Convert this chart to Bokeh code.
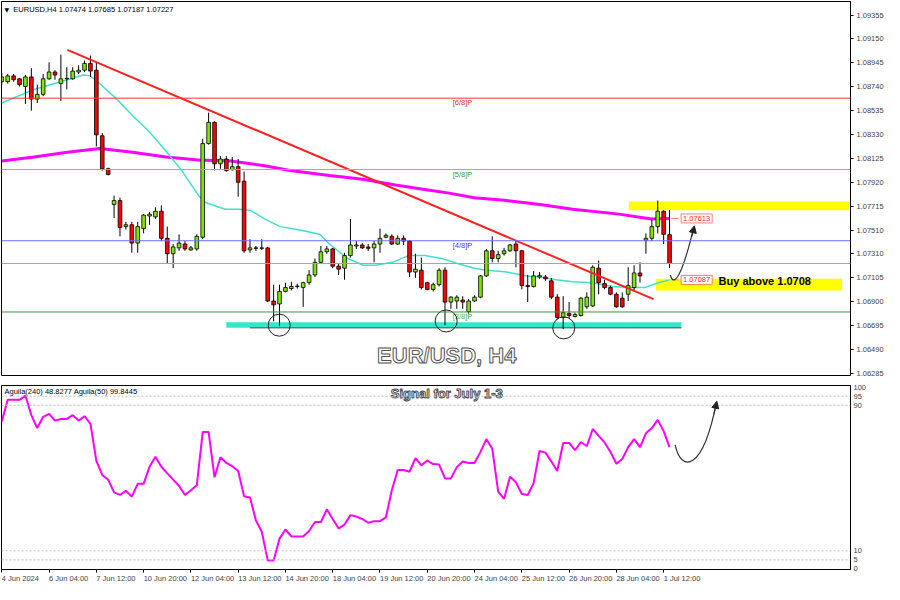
from bokeh.plotting import figure
from bokeh.layouts import column
from bokeh.models import (Range1d, FixedTicker, PrintfTickFormatter, Label, Arrow,
                          NormalHead, Span, ColumnDataSource, LinearAxis)
from bokeh.embed import file_html
from bokeh.resources import INLINE
from bokeh.core.properties import value

FONT = "Liberation Sans"

# ---------------- data (EURUSD H4) ----------------
opens = [
    1.08784, 1.08784, 1.08834, 1.08809, 1.08743, 1.08825, 1.08635, 1.08676, 1.08809, 1.08867,
    1.08768, 1.08809, 1.08809, 1.08867, 1.08883, 1.08941, 1.08883, 1.08321, 1.08039, 1.07733,
    1.07766, 1.07543, 1.07559, 1.07402, 1.07526, 1.07634, 1.07626, 1.07675, 1.07443, 1.07311,
    1.07361, 1.07394, 1.07344, 1.07352, 1.07452, 1.08254, 1.08436, 1.08081, 1.08122, 1.08031,
    1.08056, 1.07932, 1.07344, 1.07361, 1.07357, 1.07361, 1.06906, 1.06881, 1.06988, 1.07013,
    1.07030, 1.07021, 1.07063, 1.07129, 1.07237, 1.07328, 1.07352, 1.07204, 1.07187, 1.07295,
    1.07377, 1.07386, 1.07369, 1.07361, 1.07394, 1.07452, 1.07460, 1.07394, 1.07443, 1.07419,
    1.07154, 1.07170, 1.07063, 1.07005, 1.07046, 1.07170, 1.06897, 1.06906, 1.06914, 1.06815,
    1.06906, 1.06939, 1.07121, 1.07336, 1.07270, 1.07311, 1.07336, 1.07394, 1.07336, 1.07038,
    1.07030, 1.07112, 1.07112, 1.07079, 1.06939, 1.06765, 1.06798, 1.06773, 1.06782, 1.06856,
    1.06864, 1.07187, 1.07055, 1.07021, 1.06964, 1.06930, 1.06964, 1.07021, 1.07146, 1.07427,
    1.07443, 1.07543, 1.07675, 1.07474]
highs = [
    1.08859, 1.08850, 1.08850, 1.08817, 1.08842, 1.08900, 1.08759, 1.08850, 1.08950, 1.08883,
    1.09016, 1.08908, 1.08908, 1.08925, 1.08966, 1.09007, 1.08950, 1.08345, 1.08048, 1.07808,
    1.07791, 1.07584, 1.07584, 1.07584, 1.07650, 1.07667, 1.07708, 1.07725, 1.07543, 1.07394,
    1.07477, 1.07419, 1.07377, 1.07477, 1.08296, 1.08519, 1.08445, 1.08147, 1.08147, 1.08139,
    1.08122, 1.08014, 1.07435, 1.07377, 1.07435, 1.07369, 1.07046, 1.07046, 1.07063, 1.07071,
    1.07055, 1.07071, 1.07170, 1.07270, 1.07377, 1.07377, 1.07361, 1.07228, 1.07319, 1.07609,
    1.07419, 1.07402, 1.07394, 1.07419, 1.07526, 1.07485, 1.07477, 1.07468, 1.07468, 1.07427,
    1.07311, 1.07278, 1.07071, 1.07063, 1.07187, 1.07195, 1.06947, 1.06955, 1.06947, 1.06922,
    1.06955, 1.07129, 1.07352, 1.07460, 1.07336, 1.07361, 1.07394, 1.07419, 1.07344, 1.07129,
    1.07162, 1.07154, 1.07129, 1.07104, 1.06964, 1.06947, 1.06897, 1.06806, 1.06939, 1.06980,
    1.07212, 1.07253, 1.07088, 1.07038, 1.06980, 1.06980, 1.07195, 1.07212, 1.07237, 1.07485,
    1.07601, 1.07766, 1.07683, 1.07685]
lows = [
    1.08759, 1.08768, 1.08784, 1.08743, 1.08594, 1.08536, 1.08602, 1.08660, 1.08801, 1.08801,
    1.08619, 1.08718, 1.08801, 1.08850, 1.08867, 1.08825, 1.08230, 1.08023, 1.07981, 1.07617,
    1.07460, 1.07518, 1.07319, 1.07319, 1.07485, 1.07559, 1.07609, 1.07419, 1.07228, 1.07187,
    1.07336, 1.07336, 1.07336, 1.07336, 1.07435, 1.08246, 1.08023, 1.08039, 1.08014, 1.08023,
    1.07799, 1.07319, 1.07319, 1.07336, 1.07344, 1.06897, 1.06732, 1.06690, 1.06980, 1.06997,
    1.07013, 1.06856, 1.07046, 1.07112, 1.07228, 1.07311, 1.07187, 1.07129, 1.07088, 1.07278,
    1.07352, 1.07352, 1.07336, 1.07237, 1.07319, 1.07443, 1.07386, 1.07386, 1.07386, 1.07112,
    1.07104, 1.07005, 1.06997, 1.06988, 1.07030, 1.06699, 1.06839, 1.06839, 1.06839, 1.06798,
    1.06897, 1.06930, 1.07112, 1.07237, 1.07237, 1.07295, 1.07328, 1.07195, 1.07005, 1.06897,
    1.07021, 1.07096, 1.07079, 1.06922, 1.06748, 1.06665, 1.06757, 1.06765, 1.06773, 1.06839,
    1.06856, 1.06964, 1.07005, 1.06955, 1.06848, 1.06848, 1.06906, 1.06988, 1.07063, 1.07311,
    1.07419, 1.07485, 1.07394, 1.07187]
closes = [
    1.08825, 1.08834, 1.08801, 1.08759, 1.08825, 1.08635, 1.08676, 1.08809, 1.08867, 1.08842,
    1.08809, 1.08813, 1.08875, 1.08883, 1.08941, 1.08875, 1.08329, 1.08039, 1.07990, 1.07766,
    1.07535, 1.07559, 1.07402, 1.07543, 1.07642, 1.07650, 1.07675, 1.07443, 1.07311, 1.07369,
    1.07402, 1.07352, 1.07361, 1.07460, 1.08254, 1.08436, 1.08081, 1.08122, 1.08023, 1.08056,
    1.07923, 1.07336, 1.07361, 1.07357, 1.07361, 1.06906, 1.06873, 1.06988, 1.07021, 1.07030,
    1.07034, 1.07063, 1.07129, 1.07237, 1.07328, 1.07352, 1.07204, 1.07179, 1.07295, 1.07386,
    1.07386, 1.07361, 1.07357, 1.07394, 1.07443, 1.07468, 1.07394, 1.07443, 1.07419, 1.07154,
    1.07179, 1.07021, 1.07005, 1.07046, 1.07170, 1.06897, 1.06939, 1.06939, 1.06897, 1.06906,
    1.06939, 1.07121, 1.07336, 1.07270, 1.07303, 1.07336, 1.07386, 1.07336, 1.07038, 1.07030,
    1.07121, 1.07125, 1.07096, 1.06939, 1.06765, 1.06806, 1.06782, 1.06790, 1.06930, 1.06939,
    1.07195, 1.07063, 1.07021, 1.06964, 1.06856, 1.06856, 1.07038, 1.07146, 1.07121, 1.07443,
    1.07543, 1.07675, 1.07477, 1.07227]

# fast moving average (cyan), read at points along the curve
ma_fast_bar = [0, 5.45, 11.1, 13.8, 15.0, 16.6, 19.45, 22.1, 25.0, 27.8, 30.45, 33.3, 34.45,
               37.8, 40.0, 42.1, 44.45, 47.1, 50.0, 53.8, 55.45, 58.3, 61.1, 63.3, 66.1, 68.8,
               71.6, 74.45, 77.1, 79.95, 82.1, 85.45, 88.8, 91.1, 93.8, 96.6, 100.0, 103.3,
               106.1, 108.8, 111.1, 113.0]
ma_fast_val = [1.08602, 1.08718, 1.08801, 1.08842, 1.08834, 1.08767, 1.08635, 1.08494, 1.08354,
               1.08188, 1.08023, 1.07808, 1.07750, 1.07692, 1.07692, 1.07683, 1.07609, 1.07543,
               1.07518, 1.07477, 1.07394, 1.07278, 1.07212, 1.07212, 1.07237, 1.07295, 1.07295,
               1.07270, 1.07228, 1.07187, 1.07170, 1.07154, 1.07121, 1.07112, 1.07088, 1.07071,
               1.07063, 1.07030, 1.07021, 1.07021, 1.07063, 1.07087]
# slow moving average (magenta)
ma_slow_bar = [0, 5.45, 11.1, 16.6, 22.1, 27.8, 33.3, 38.8, 44.45, 48.8, 55.45, 61.1, 66.6,
               72.1, 75.45, 79.95, 85.45, 91.1, 96.6, 104.45, 109.95, 113.0]
ma_slow_val = [1.08105, 1.08139, 1.08180, 1.08213, 1.08180, 1.08139, 1.08114, 1.08105, 1.08064,
               1.08023, 1.07981, 1.07948, 1.07899, 1.07857, 1.07832, 1.07791, 1.07766, 1.07733,
               1.07692, 1.07650, 1.07609, 1.07613]

# oscillator (Aguila) one value per bar
osc_vals = [
    81.1, 93.0, 93.0, 93.0, 95.4, 84.6, 77.5, 83.7, 85.3, 81.6,
    82.5, 82.5, 84.6, 81.6, 84.0, 79.8, 59.5, 51.7, 49.1, 42.1,
    40.7, 43.0, 39.8, 46.8, 46.8, 56.2, 61.7, 56.2, 52.6, 49.1,
    45.6, 40.7, 43.3, 46.0, 75.3, 75.3, 50.4, 61.4, 58.3, 56.5,
    53.9, 40.0, 39.3, 26.7, 20.5, 4.7, 4.7, 16.7, 21.7, 17.9,
    17.9, 17.9, 20.9, 25.8, 25.8, 32.8, 27.5, 22.3, 24.4, 29.6,
    28.8, 27.5, 25.4, 26.3, 26.3, 28.4, 43.3, 54.4, 54.4, 53.5,
    60.9, 57.0, 59.6, 57.7, 57.4, 49.8, 49.8, 56.0, 59.1, 58.3,
    58.3, 64.4, 71.4, 66.1, 42.5, 38.6, 50.7, 47.7, 41.2, 40.7,
    47.2, 64.9, 64.0, 59.1, 53.9, 69.3, 69.3, 65.3, 69.8, 67.5,
    77.0, 73.2, 69.6, 64.4, 57.9, 60.5, 67.0, 71.4, 67.0, 74.6,
    77.5, 82.0, 75.8, 67.0]

price_ticks = [1.06285, 1.06490, 1.06695, 1.06900, 1.07105, 1.07310, 1.07510, 1.07715,
               1.07920, 1.08125, 1.08330, 1.08535, 1.08740, 1.08945, 1.09150, 1.09355]
time_tick_bars = [0, 8, 16, 24, 32, 40, 48, 56, 64, 72, 80, 88, 96, 104, 112]
time_tick_labels = ["4 Jun 2024", "6 Jun 04:00", "7 Jun 12:00", "10 Jun 20:00", "12 Jun 04:00",
                    "13 Jun 12:00", "14 Jun 20:00", "18 Jun 04:00", "19 Jun 12:00",
                    "20 Jun 20:00", "24 Jun 04:00", "25 Jun 12:00", "26 Jun 20:00",
                    "28 Jun 04:00", "1 Jul 12:00"]
osc_ticks = [0, 5, 10, 90, 95, 100]
osc_levels = [95, 90, 10, 5]

level_prices = [1.08643, 1.08032, 1.07422, 1.06812]
level_names = ["[6/8]P", "[5/8]P", "[4/8]P", "[3/8]P"]
last_price = 1.07227

trend_bars = [11.1, 110.3]
trend_prices = [1.09057, 1.06922]

support_bars = [38.0, 115.0]
support_low, support_high = 1.06676, 1.06724
support_line_bars = [42.0, 115.0]

zone_left = [106.1, 110.7]
zone_right = [143.4, 142.2]
zone_bottom = [1.07683, 1.06997]
zone_top = [1.07758, 1.07096]

circle_bars = [46.95, 75.2, 95.1]
circle_prices = [1.06699, 1.06735, 1.06676]

ma_fast_last = 1.07087
ma_slow_last = 1.07613

# ---------------- figures ----------------
XMIN, XMAX = -0.05, 143.62
x_range = Range1d(XMIN, XMAX)
FW = 849
PX_PER_BAR = FW / (XMAX - XMIN)
LABEL_PX = 7.5

p = figure(frame_width=FW, frame_height=374, x_range=x_range,
           y_range=Range1d(1.06268, 1.09471), x_axis_location=None,
           y_axis_location="right", output_backend="svg", toolbar_location=None,
           min_border_left=1, min_border_right=0, min_border_top=1, min_border_bottom=5,
           background_fill_color="white", border_fill_color="white",
           outline_line_color="black", outline_line_width=1)
p.grid.visible = False
ya = p.yaxis[0]
ya.ticker = FixedTicker(ticks=price_ticks)
ya.formatter = PrintfTickFormatter(format="%.5f")
ya.major_label_text_font = FONT
ya.major_label_text_font_size = "7.5px"
ya.major_tick_out = 3
ya.major_tick_in = 0
ya.minor_tick_out = 0
ya.minor_tick_in = 0
ya.major_label_standoff = 3
ya.axis_line_color = "black"

# zones and support
p.quad(left=zone_left, right=zone_right, bottom=zone_bottom, top=zone_top,
       fill_color="#ffff00", line_color=None)
p.quad(left=[support_bars[0]], right=[support_bars[1]], bottom=[support_low],
       top=[support_high], fill_color="#33e6cc", line_color=None)
p.line(support_line_bars, [support_low, support_low], line_color="#2f4f4f", line_width=1)

# horizontal levels
level_line_colors = ["#ff3333", "#7cc47c", "#6b6bff", "#3a963a"]
level_text_colors = ["#e03030", "#3a9a3a", "#4040ff", "#4caf50"]
for lv, lc in zip(level_prices, level_line_colors):
    p.add_layout(Span(location=lv, dimension="width", line_color=lc, line_width=1))
p.add_layout(Span(location=last_price, dimension="width", line_color="#9aa6b8", line_width=1))
p.text(x=[76.3] * 4, y=level_prices, text=level_names, text_color=level_text_colors,
       text_font=value(FONT), text_font_size="7.5px", text_baseline="top", text_align="left")

# moving averages
p.line(ma_slow_bar, ma_slow_val, line_color="#ff00ff", line_width=3)
p.line(ma_fast_bar, ma_fast_val, line_color="#40e0d0", line_width=1.5)

# candles
bars = list(range(len(opens)))
body_top = [max(o, c) for o, c in zip(opens, closes)]
body_bot = [min(o, c) for o, c in zip(opens, closes)]
body_col = ["#7ee600" if c >= o else "#ff0000" for o, c in zip(opens, closes)]
src = ColumnDataSource(dict(x=bars, h=highs, l=lows, t=body_top, b=body_bot, c=body_col))
p.segment(x0="x", y0="l", x1="x", y1="h", source=src, line_color="black", line_width=1)
p.vbar(x="x", width=0.62, top="t", bottom="b", source=src, fill_color="c",
       line_color="black", line_width=0.8)

# trend line
p.line(trend_bars, trend_prices, line_color="#ff2020", line_width=2)

# circles at the lows
p.scatter(circle_bars, circle_prices, marker="circle", size=22, fill_alpha=0,
          line_color="#222222", line_width=1)

# MA end labels
p.segment(x0=[113.3, 113.3], y0=[ma_slow_last, ma_fast_last], x1=[114.6, 114.6],
          y1=[ma_slow_last, ma_fast_last], line_color=["#ff8080", "#ff9060"], line_width=1)
for val, bc in [(ma_slow_last, "#ff8080"), (ma_fast_last, "#ff8040")]:
    p.add_layout(Label(x=114.95, y=val, text=f"{val:.5f}", text_color="#ff2a2a",
                       text_font=FONT, text_font_size="7.5px", text_baseline="middle",
                       text_align="left", background_fill_color="white",
                       border_line_color=bc, padding=2))

p.text(x=[121.3], y=[1.07079], text=["Buy above 1.0708"], text_font=value(FONT),
       text_font_style="bold", text_font_size="11px", text_color="black",
       text_baseline="middle", text_align="left")

# curved arrow in price panel
p.bezier(x0=[113.12], y0=[1.07129], x1=[117.12], y1=[1.07543], cx0=[113.8], cy0=[1.07005],
         cx1=[115.3], cy1=[1.07154], line_color="#333333", line_width=1.2)
p.add_layout(Arrow(end=NormalHead(size=7, fill_color="#222222", line_color="#222222"),
                   x_start=116.8, y_start=1.07460, x_end=117.2, y_end=1.07550,
                   line_color="#333333", line_width=1.2))

# header
p.text(x=[0.45], y=[1.09405], text=["\u25bc"], text_font=value("DejaVu Sans"),
       text_font_size="6px", text_baseline="middle", text_color="black")
p.text(x=[1.95], y=[1.09405], text=["EURUSD,H4  1.07474 1.07685 1.07187 1.07227"],
       text_font=value(FONT), text_font_size="7.5px", text_baseline="middle",
       text_color="black")

# big title
p.text(x=[75.3], y=[1.06442], text=["EUR/USD, H4"], text_font=value(FONT),
       text_font_style="bold", text_font_size="22px", text_color="white",
       text_outline_color="#505050", text_align="center", text_baseline="middle")

# price tags on the right axis
tag_prices = [1.08643, 1.08032, 1.07422, last_price, 1.06812]
tag_colors = ["#ff0000", "#138a13", "#0000ff", "#000000", "#138a13"]
for tp, tc in zip(tag_prices, tag_colors):
    p.add_layout(Label(x=XMAX + 0.68, y=tp, text=f"{tp:.5f}", text_color="white",
                       text_font=FONT, text_font_size="7.5px", text_baseline="middle",
                       text_align="left", background_fill_color=tc, padding=1))

# ---------------- oscillator panel ----------------
OSC_LO, OSC_HI = -0.3, 100.9
q = figure(frame_width=FW, frame_height=184, x_range=x_range, y_range=Range1d(OSC_LO, OSC_HI),
           y_axis_location="right", output_backend="svg", toolbar_location=None,
           min_border_left=1, min_border_right=0, min_border_top=5, min_border_bottom=0,
           background_fill_color="white", border_fill_color="white",
           outline_line_color="black", outline_line_width=1)
q.grid.visible = False
qy = q.yaxis[0]
qy.ticker = FixedTicker(ticks=osc_ticks)
qy.major_label_text_font = FONT
qy.major_label_text_font_size = "7.5px"
qy.major_tick_out = 0
qy.major_tick_in = 0
qy.minor_tick_out = 0
qy.minor_tick_in = 0
qy.major_label_standoff = 3

# axis 1: tick marks at the bar positions
qx = q.xaxis[0]
qx.ticker = FixedTicker(ticks=time_tick_bars)
qx.major_label_overrides = {b: "" for b in time_tick_bars}
qx.major_label_text_font_size = "1px"
qx.major_tick_out = 3
qx.major_tick_in = 0
qx.minor_tick_out = 0
qx.minor_tick_in = 0
qx.major_label_standoff = 0

# axis 2: the time labels, placed so that each one starts at its tick (terminal style)
CHAR_EM = {" ": 0.278, ":": 0.278, "J": 0.5, "l": 0.222}


def text_width_px(s):
    return sum(CHAR_EM.get(ch, 0.556) for ch in s) * LABEL_PX


label_pos = [round((b + text_width_px(t) / 2 / PX_PER_BAR) * 64) / 64
             for b, t in zip(time_tick_bars, time_tick_labels)]
xa2 = LinearAxis(ticker=FixedTicker(ticks=label_pos),
                 major_label_overrides={pos: t for pos, t in zip(label_pos, time_tick_labels)},
                 axis_line_color=None, major_tick_out=0, major_tick_in=0,
                 minor_tick_out=0, minor_tick_in=0, major_label_standoff=1,
                 major_label_text_font=FONT, major_label_text_font_size="7.5px")
q.add_layout(xa2, "below")

for lv in osc_levels:
    q.add_layout(Span(location=lv, dimension="width", line_color="#bdbdbd",
                      line_width=1, line_dash="2 2"))
q.line(bars, osc_vals, line_color="#ff00ff", line_width=2)

q.text(x=[0.45], y=[97.7], text=["Aguila(240) 48.8277  Aguila(50) 99.8445"],
       text_font=value(FONT), text_font_size="7.5px", text_baseline="middle",
       text_color="black")
q.text(x=[75.3], y=[96.6], text=["Signal for July 1-3"], text_font=value(FONT),
       text_font_style="bold", text_font_size="13px", text_color="white",
       text_outline_color="#505050", text_align="center", text_baseline="middle")

q.bezier(x0=[113.95], y0=[68.3], x1=[120.95], y1=[91.9], cx0=[114.95], cy0=[53.0],
         cx1=[118.6], cy1=[53.0], line_color="#333333", line_width=1.2)
q.add_layout(Arrow(end=NormalHead(size=7, fill_color="#222222", line_color="#222222"),
                   x_start=120.5, y_start=85.0, x_end=121.0, y_end=92.2,
                   line_color="#333333", line_width=1.2))

layout = column(p, q, spacing=0)
open("out.html", "w").write(file_html(layout, INLINE))
